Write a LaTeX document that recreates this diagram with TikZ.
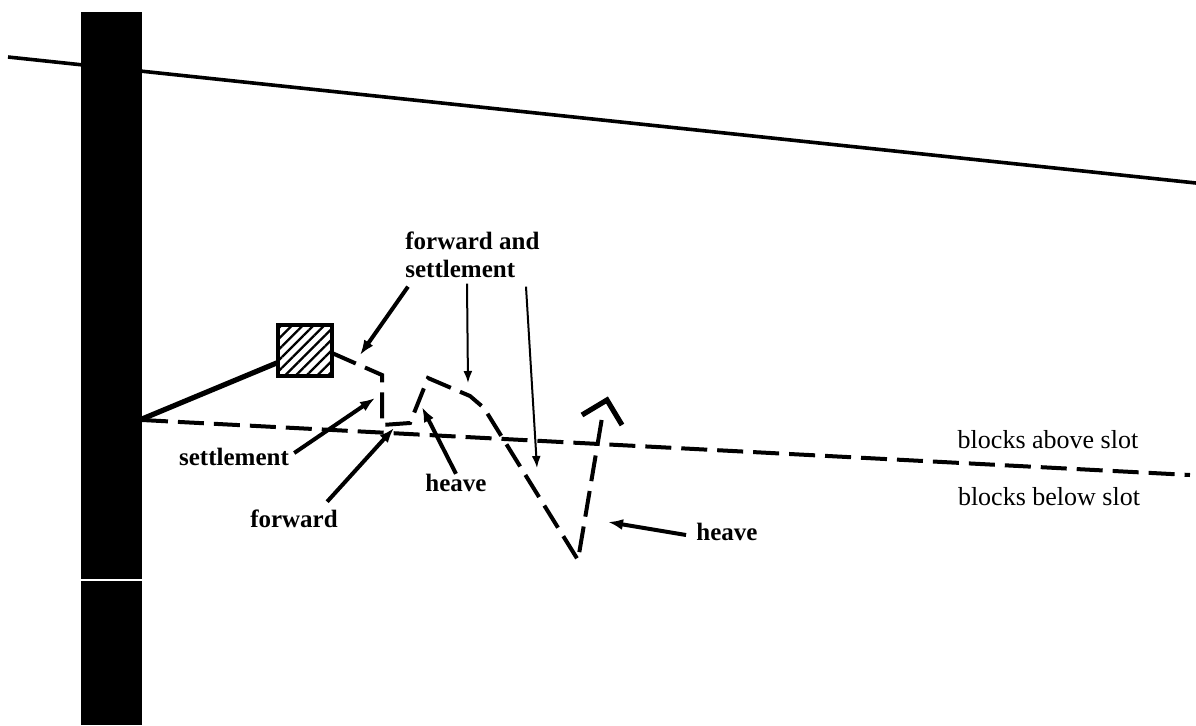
\documentclass[tikz,border=0pt]{standalone}
\usepackage{fontspec}
\setmainfont{Liberation Serif}
\usepackage{tikz}
\usetikzlibrary{arrows.meta,patterns.meta}
\tikzstyle{lbl}=[inner sep=0pt,font=\bfseries\fontsize{12.5}{14}\selectfont]
\tikzstyle{side}=[inner sep=0pt,font=\fontsize{13}{15}\selectfont]
\tikzstyle{to}=[line width=2pt,-{Latex[length=7.5pt,width=5.5pt]}]
\tikzstyle{thinto}=[line width=1pt,-{Latex[length=6pt,width=4.5pt]}]
\tikzstyle{slot}=[line width=2pt,dash pattern=on 13pt off 5pt]

\begin{document}
\begin{tikzpicture}[x=0.5pt,y=-0.5pt]
\useasboundingbox (0,0) rectangle (1196,725);
% ground surface and the wall
\draw [line width=1.8pt] (8,57) -- (1196,183);
\fill (81,12) rectangle (142,725);
\draw [white,line width=0.7pt] (81,580) -- (142,580);
% slot level
\draw [slot] (142,420) -- (1190,475);
% anchor and its tie
\draw [line width=2.6pt] (142,419) -- (279,362);
\draw [line width=1.6pt,pattern={Lines[angle=45,distance=3.8pt,line width=1.1pt]}] (278,325) rectangle (332,376);
% path of the anchor
\draw [slot,line join=miter] (332,353) -- (382,375) -- (382,425) -- (410,423) -- (428,378)
  -- (470,396) -- (484,408) -- (578,560) -- (603,412);
\draw [line width=2.6pt] (582,415) -- (607,400) -- (622,425);
% labels
\node (fs) [lbl,align=left,anchor=north west] at (405,231) {forward and\\settlement};
\node (st) [lbl] at (234,457) {settlement};
\node (fw) [lbl] at (294,519) {forward};
\node (hv1) [lbl] at (456,483) {heave};
\node (hv2) [lbl] at (727,532) {heave};
\node (ab) [side] at (1048,440) {blocks above slot};
\node (be) [side] at (1049,497) {blocks below slot};
% arrow tips
\coordinate (t1) at (360,355);
\coordinate (t2) at (468,383);
\coordinate (t3) at (537,468);
\coordinate (t4) at (375,398);
\coordinate (t5) at (394,428);
\coordinate (t6) at (422,407);
\coordinate (t7) at (608,522);
\draw [to] ([shift={(3,9)}]fs.south west) -- (t1);
\draw [thinto] ([shift={(62,6)}]fs.south west) -- (t2);
\draw [thinto] ([shift={(121,9)}]fs.south west) -- (t3);
\draw [to] ([shift={(5,-4)}]st.east) -- (t4);
\draw [to] ([shift={(-11,-8)}]fw.north east) -- (t5);
\draw [to] (hv1.north) -- (t6);
\draw [to] ([shift={(-10,3)}]hv2.west) -- (t7);
\end{tikzpicture}
\end{document}
